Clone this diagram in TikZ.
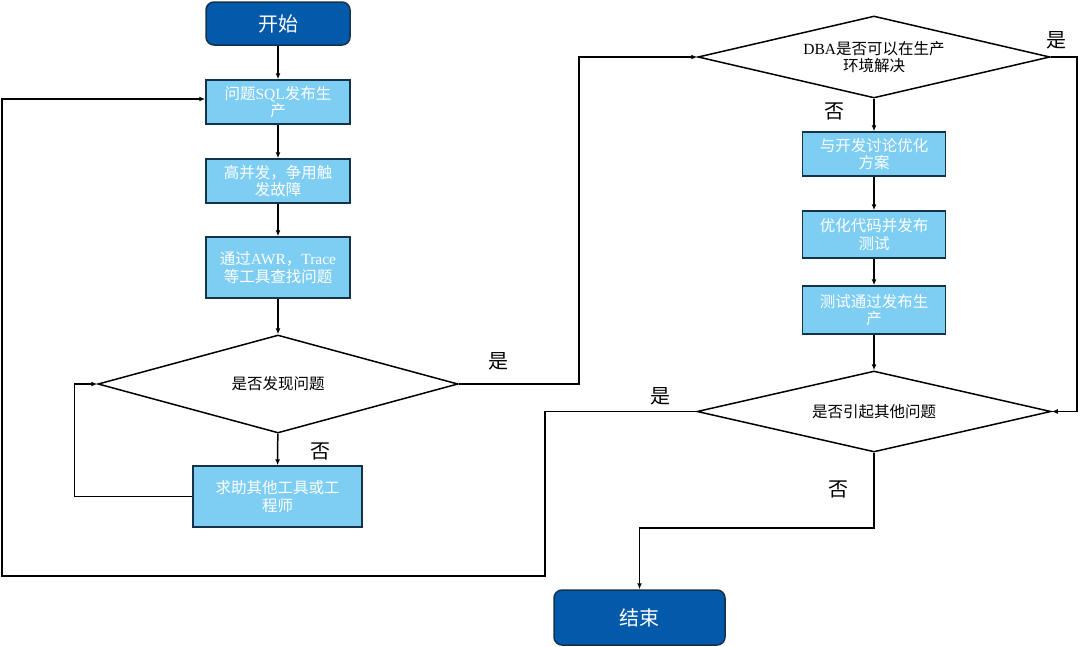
\documentclass[tikz,border=0pt]{standalone}
\usepackage{fontspec}
\setmainfont{Liberation Serif}
\newfontfamily\cjk{Noto Sans CJK SC}
\usetikzlibrary{shapes.geometric,arrows.meta}
\definecolor{darkblue}{HTML}{035AAA}
\definecolor{lightblue}{HTML}{7ECEF4}
\definecolor{edgeblue}{HTML}{14324A}

\begin{document}
\begin{tikzpicture}[x=1pt,y=-1pt,
  terminal/.style={draw=edgeblue,fill=darkblue,rounded corners=8pt,line width=1.5pt,
    minimum width=144pt,minimum height=43pt,inner sep=0pt,text=white,
    font=\cjk\fontsize{20}{24}\selectfont},
  process/.style={draw=edgeblue,fill=lightblue,line width=1.5pt,minimum width=144pt,
    inner sep=0pt,text=white,align=center,font=\cjk\fontsize{15.5}{17.5}\selectfont},
  decision/.style={draw,diamond,line width=1.5pt,inner sep=0pt,align=center,
    font=\cjk\fontsize{15.5}{17.5}\selectfont},
  arr/.style={line width=1.5pt,-{Latex[length=6pt,width=5pt]}},
  tag/.style={font=\cjk\fontsize{20}{24}\selectfont}]
  \useasboundingbox (0,0) rectangle (1080,646);

  % left column
  \node[terminal] (start) at (278,23.5) {开始};
  \node[process,minimum height=44pt] (q1) at (278,102) {问题{\rmfamily SQL}发布生\\产};
  \node[process,minimum height=44pt] (q2) at (278,181) {高并发，争用触\\发故障};
  \node[process,minimum height=61pt] (q3) at (278,267.5) {通过{\rmfamily AWR}，{\rmfamily Trace}\\等工具查找问题};
  \node[decision,minimum width=360pt,minimum height=98pt,aspect=3.67] (d1) at (278,384) {是否发现问题};
  \node[process,minimum width=169pt,minimum height=61pt] (help) at (277.5,496.5) {求助其他工具或工\\程师};

  % right column
  \node[decision,minimum width=352pt,minimum height=82pt,aspect=4.29] (d2) at (874,57) {{\rmfamily DBA}是否可以在生产\\环境解决};
  \node[process,minimum width=143pt,minimum height=44pt] (plan) at (874,154) {与开发讨论优化\\方案};
  \node[process,minimum width=143pt,minimum height=47pt] (code) at (874,234.5) {优化代码并发布\\测试};
  \node[process,minimum width=143pt,minimum height=48pt] (test) at (874,310) {测试通过发布生\\产};
  \node[decision,minimum width=354pt,minimum height=81pt,aspect=4.37] (d3) at (874,411.5) {是否引起其他问题};
  \node[terminal,minimum width=171pt,minimum height=55pt] (end) at (639.5,617.5) {结束};

  \coordinate (lowleft) at (2,576);

  \draw[arr] (start) -- (q1);
  \draw[arr] (q1) -- (q2);
  \draw[arr] (q2) -- (q3);
  \draw[arr] (q3) -- (d1);
  \draw[arr] (d1) -- (help);
  \draw[arr] (help.west) -- ++(-118,0) |- (d1.west);
  \draw[arr] (d1.east) -- ++(120,0) |- (d2.west);
  \draw[arr] (d2) -- (plan);
  \draw[arr] (plan) -- (code);
  \draw[arr] (code) -- (test);
  \draw[arr] (test) -- (d3);
  \draw[arr] (d2.east) -- ++(26,0) |- (d3.east);
  \draw[arr] (d3.west) -| (545,576) -- (lowleft) |- ([yshift=3pt]q1.west);
  \draw[arr] (d3.south) -- ++(0,75) -| (end);

  \node[tag] (yes1) at (498,361) {是};
  \node[tag] (no1) at (320,451) {否};
  \node[tag] (yes2) at (1056,40) {是};
  \node[tag] (no2) at (834,111) {否};
  \node[tag] (yes3) at (660,396) {是};
  \node[tag] (no3) at (838,489) {否};
\end{tikzpicture}
\end{document}
